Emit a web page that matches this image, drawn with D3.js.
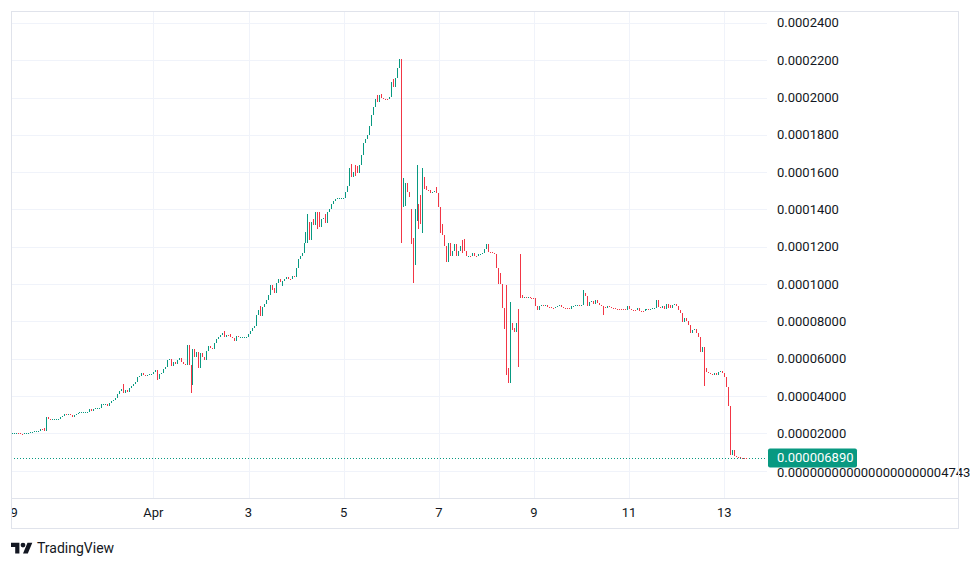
<!DOCTYPE html>
<html>
<head>
<meta charset="utf-8">
<script src="https://cdn.jsdelivr.net/npm/d3@7"></script>
<style>
  body { margin: 0; background: #fff; }
  svg text { font-family: Roboto, "Noto Sans", sans-serif; fill: #131722; }
</style>
</head>
<body>
<div id="chart"></div>
<script>
// hourly closes, in millionths (x 1e-6), one array per day starting Mar 29 00:00
var mar29 = [20.0, 20.0, 20.0, 20.0, 19.9, 19.8, 19.6, 20.0, 20.2, 20.4, 20.6, 20.9, 21.0, 21.2, 21.5, 22.3, 21.8, 21.0, 28.5, 27.6, 27.5, 27.6, 27.7, 27.8];
var mar30 = [27.9, 28.5, 29.2, 30.5, 30.0, 30.3, 29.6, 29.0, 29.6, 30.4, 31.0, 31.3, 31.4, 31.4, 31.5, 31.6, 33.0, 32.2, 33.2, 33.3, 33.4, 33.6, 35.5, 35.7];
var mar31 = [35.7, 34.4, 36.0, 37.2, 38.0, 38.8, 41.2, 42.6, 43.5, 41.5, 43.3, 42.2, 44.5, 45.5, 46.4, 47.4, 50.2, 50.8, 52.4, 51.5, 51.4, 51.5, 51.6, 51.8];
var apr1 = [52.8, 54.0, 49.2, 51.9, 52.3, 54.6, 55.5, 59.1, 60.0, 55.9, 58.2, 57.3, 59.5, 60.5, 58.2, 57.2, 56.5, 67.6, 56.8, 47.5, 65.2, 61.1, 63.8, 55.1];
var apr2 = [62.9, 61.1, 59.3, 64.3, 66.8, 65.6, 65.3, 68.6, 70.5, 71.9, 72.8, 74.0, 71.9, 72.8, 72.3, 71.4, 71.2, 69.6, 72.4, 71.5, 71.5, 71.5, 71.5, 71.5];
var apr3 = [73.3, 74.6, 76.4, 77.3, 83.6, 85.9, 83.1, 87.7, 89.5, 91.4, 93.9, 99.3, 96.6, 95.0, 100.7, 102.9, 101.0, 101.5, 102.5, 104.0, 102.9, 102.8, 104.3, 104.0];
var apr4 = [108.8, 113.7, 114.8, 116.6, 122.0, 127.7, 137.7, 123.6, 133.2, 131.5, 138.4, 129.7, 130.5, 135.0, 135.5, 132.5, 138.6, 140.5, 143.0, 144.3, 145.5, 146.0, 146.0, 146.0];
var apr5 = [146.0, 149.2, 152.5, 162.2, 157.3, 160.0, 158.2, 159.6, 163.6, 169.0, 175.6, 177.9, 180.1, 184.7, 190.8, 194.9, 199.4, 197.6, 201.2, 199.8, 199.4, 199.2, 199.0, 200.3];
var apr6 = [208.4, 205.7, 210.5, 215.9, 220.9, 163.6, 156.8, 154.1, 149.2, 146.5, 121.3, 110.5, 140.2, 143.0, 129.4, 132.1, 157.3, 151.0, 150.6, 150.2, 148.8, 149.5, 150.1, 148.8];
var apr7 = [141.6, 127.6, 126.3, 120.4, 111.7, 122.2, 115.3, 117.7, 121.3, 115.3, 118.0, 120.4, 116.8, 117.7, 115.0, 115.3, 115.1, 116.8, 115.0, 114.9, 116.2, 116.4, 116.5, 118.9];
var apr8 = [121.3, 117.3, 117.0, 116.5, 116.2, 108.8, 106.1, 99.8, 87.3, 75.9, 55.0, 46.8, 78.9, 75.3, 74.4, 79.3, 55.5, 92.4, 92.4, 93.2, 92.9, 92.9, 92.7, 92.5];
var apr9 = [92.3, 88.2, 86.1, 88.4, 88.8, 88.6, 88.9, 87.9, 87.5, 87.2, 87.0, 87.9, 88.2, 88.6, 87.5, 87.3, 87.2, 87.0, 86.8, 88.0, 88.4, 88.8, 88.8, 88.7];
var apr10 = [88.8, 95.4, 93.6, 88.2, 90.6, 91.0, 89.3, 91.5, 89.7, 88.8, 88.2, 87.5, 87.0, 88.0, 87.5, 87.2, 87.0, 86.9, 86.8, 86.6, 86.5, 86.4, 86.3, 88.0];
var apr11 = [86.6, 86.1, 86.0, 85.9, 87.0, 85.6, 85.5, 85.4, 86.6, 86.8, 86.1, 86.6, 87.0, 87.1, 91.5, 87.9, 87.0, 88.4, 86.8, 89.3, 87.3, 87.1, 88.8, 89.3];
var apr12 = [88.2, 86.1, 84.3, 79.8, 81.6, 80.4, 78.0, 73.9, 75.5, 75.9, 73.6, 71.8, 63.8, 66.4, 54.8, 53.0, 52.1, 51.8, 51.3, 52.5, 51.3, 53.0, 53.6, 52.1];
var apr13 = [50.4, 45.0, 34.6, 8.4, 11.0, 7.9, 7.5, 7.1, 7.0, 6.95, 6.9, 6.89];

// candles whose open gaps away from the previous close: [hour index, open]
var openGaps = [[151, 133.3], [156, 138.6], [174, 163.9], [175, 163.2], [198, 141.6], [199, 142.0],
  [202, 140.2], [203, 124.9], [207, 147.7], [229, 124.0], [250, 99.6], [254, 76.2], [256, 86.5],
  [257, 115.9], [258, 94.2]];

// wicks beyond the body: [hour index, high, low]
var wickList = [[17, 22.9, null], [57, 46.3, null], [74, null, 48.8], [91, null, 41.8], [92, null, 46.0],
  [108, 75.0, null], [111, 73.4, null], [126, 88.5, null], [133, 98.0, null], [134, null, 95.5],
  [137, null, 98.9], [150, null, 122.0], [153, 135.0, null], [159, 137.7, null], [172, 164.5, null],
  [173, null, 157.8], [185, 201.2, null], [187, 202.1, null], [193, 210.2, null], [197, null, 122.2],
  [203, null, 100.6], [205, 164.0, 133.9], [208, 162.2, 127.6], [210, 152.4, null], [215, 151.9, null],
  [218, 132.1, null], [222, 119.5, null], [228, 123.6, null], [241, 120.4, null], [246, null, 99.8],
  [250, null, 51.0], [252, 90.6, null], [289, 96.8, null], [294, 90.9, null], [299, null, 83.4],
  [327, 91.2, null], [333, 88.8, null], [350, null, 45.4], [359, 53.6, null], [365, 10.2, null]];

var priceTicks = [0, 20, 40, 60, 80, 100, 120, 140, 160, 180, 200, 220, 240];
var priceTickLabels = ["0.0000000000000000000004743", "0.00002000", "0.00004000", "0.00006000", "0.00008000",
  "0.0001000", "0.0001200", "0.0001400", "0.0001600", "0.0001800", "0.0002000", "0.0002200", "0.0002400"];
var timeTicks = ["2024-03-29", "2024-04-01", "2024-04-03", "2024-04-05", "2024-04-07", "2024-04-09", "2024-04-11", "2024-04-13"];
var timeTickLabels = ["29", "Apr", "3", "5", "7", "9", "11", "13"];
var lastPrice = 6.89, lastPriceLabel = "0.000006890";

// ---- layout
var W = 970, H = 568;
var pane = {left: 11, top: 11, right: 767, bottom: 498};
var upColor = "#089981", downColor = "#F23645", gridColor = "#f0f3fa", borderColor = "#e0e3eb";

var t0 = Date.UTC(2024, 2, 29);
var hour = 36e5;

var x = d3.scaleUtc()
    .domain([new Date(t0), new Date(t0 + 16 * 24 * hour)])
    .range([10.6, 10.6 + 16 * 47.58]);
var y = d3.scaleLinear()
    .domain([-14.69, 246.43])
    .range([pane.bottom, pane.top]);

// build OHLC from closes
var closes = [].concat(mar29, mar30, mar31, apr1, apr2, apr3, apr4, apr5, apr6, apr7, apr8, apr9, apr10, apr11, apr12, apr13);
var gapMap = new Map(openGaps.map(d => [d[0], d[1]]));
var wickMap = new Map(wickList.map(d => [d[0], [d[1], d[2]]]));
var candles = closes.map(function(c, i) {
  var o = gapMap.has(i) ? gapMap.get(i) : (i ? closes[i - 1] : c);
  var w = wickMap.get(i) || [null, null];
  var h = Math.max(o, c, w[0] == null ? -Infinity : w[0]);
  var l = Math.min(o, c, w[1] == null ? Infinity : w[1]);
  return {t: new Date(t0 + i * hour), o: o, h: h, l: l, c: c};
});

var svg = d3.select("#chart").append("svg")
    .attr("width", W)
    .attr("height", H);

svg.append("defs").append("clipPath").attr("id", "paneClip")
  .append("rect")
    .attr("x", pane.left).attr("y", pane.top)
    .attr("width", pane.right - pane.left).attr("height", pane.bottom - pane.top);

svg.append("defs").append("clipPath").attr("id", "timeClip")
  .append("rect")
    .attr("x", pane.left).attr("y", pane.bottom)
    .attr("width", pane.right - pane.left).attr("height", 30);

// grid
var grid = svg.append("g").attr("clip-path", "url(#paneClip)").attr("shape-rendering", "crispEdges");
grid.selectAll(".hgrid")
  .data(priceTicks)
  .enter().append("line")
    .attr("x1", pane.left).attr("x2", pane.right)
    .attr("y1", d => Math.round(y(d)) + 0.5).attr("y2", d => Math.round(y(d)) + 0.5)
    .attr("stroke", gridColor);
grid.selectAll(".vgrid")
  .data(timeTicks)
  .enter().append("line")
    .attr("x1", d => Math.round(x(new Date(d))) + 0.5).attr("x2", d => Math.round(x(new Date(d))) + 0.5)
    .attr("y1", pane.top).attr("y2", pane.bottom)
    .attr("stroke", gridColor);

// last price dotted line
svg.append("line")
    .attr("clip-path", "url(#paneClip)")
    .attr("x1", pane.left).attr("x2", pane.right)
    .attr("y1", Math.round(y(lastPrice)) + 0.5).attr("y2", Math.round(y(lastPrice)) + 0.5)
    .attr("stroke", upColor)
    .attr("stroke-dasharray", "1,2");

// candles
svg.append("g")
    .attr("clip-path", "url(#paneClip)")
    .attr("shape-rendering", "crispEdges")
  .selectAll("rect")
  .data(candles)
  .enter().append("rect")
    .attr("x", d => Math.floor(x(d.t)))
    .attr("width", 1)
    .attr("y", d => Math.round(y(d.h)))
    .attr("height", d => Math.max(1, Math.round(y(d.l)) - Math.round(y(d.h))))
    .attr("fill", d => d.c >= d.o ? upColor : downColor);

// price axis labels (the zero label sits just under the last-price tag)
svg.append("g").selectAll("text")
  .data(priceTicks)
  .enter().append("text")
    .attr("x", 777)
    .attr("y", d => y(d) + (d === 0 ? 6 : 4.5))
    .attr("font-size", 13)
    .text((d, i) => priceTickLabels[i]);

// last price tag
svg.append("rect")
    .attr("x", 768).attr("y", Math.round(y(lastPrice)) - 9.5)
    .attr("width", 89).attr("height", 19)
    .attr("rx", 2)
    .attr("fill", upColor);
svg.append("text")
    .attr("x", 777).attr("y", y(lastPrice) + 4)
    .attr("font-size", 13)
    .style("fill", "#fff")
    .text(lastPriceLabel);

// time axis labels
svg.append("g").attr("clip-path", "url(#timeClip)").selectAll("text")
  .data(timeTicks)
  .enter().append("text")
    .attr("x", d => x(new Date(d)))
    .attr("y", 517)
    .attr("text-anchor", "middle")
    .attr("font-size", 13)
    .text((d, i) => timeTickLabels[i]);

// frame
var frame = svg.append("g").attr("fill", "none").attr("stroke", borderColor).attr("shape-rendering", "crispEdges");
frame.append("rect").attr("x", 11.5).attr("y", 11.5).attr("width", 947).attr("height", 517);
frame.append("line").attr("x1", 11).attr("x2", 959).attr("y1", 498.5).attr("y2", 498.5);

// TradingView logo
var logo = svg.append("g").attr("transform", "translate(11,540.3) scale(0.6)").attr("fill", "#131722");
logo.append("path").attr("d", "M14 22H7V11H0V4h14v18zM28 22h-8l7.5-18h8L28 22z");
logo.append("circle").attr("cx", 20).attr("cy", 8).attr("r", 4);
svg.append("text")
    .attr("x", 37).attr("y", 553)
    .attr("font-size", 14)
    .text("TradingView");
</script>
</body>
</html>
